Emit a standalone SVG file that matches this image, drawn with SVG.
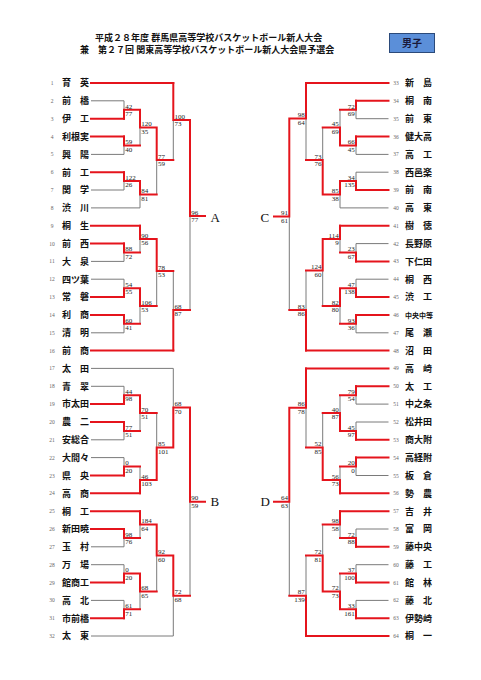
<svg xmlns="http://www.w3.org/2000/svg" width="481" height="680" viewBox="0 0 481 680">
<style>
.r{stroke:#e5141c;stroke-width:2;fill:none;stroke-linecap:square}
.g{stroke:#7a7a7a;stroke-width:1;fill:none}
.nm{font-family:"Liberation Serif","Noto Sans CJK JP",serif;font-size:9px;font-weight:bold;fill:#111}
.nms{font-family:"Liberation Serif","Noto Sans CJK JP",serif;font-size:7px;font-weight:bold;fill:#111}
.no{font-family:"Liberation Serif",serif;font-size:5.5px;fill:#666;text-anchor:middle}
.sl text{font-family:"Liberation Serif",serif;font-size:7px;fill:#222}
.sr text{font-family:"Liberation Serif",serif;font-size:7px;fill:#222;text-anchor:end}
.ttl{font-family:"Liberation Serif","Noto Sans CJK JP",serif;font-size:9px;font-weight:bold;fill:#111}
.blk{font-family:"Liberation Serif",serif;font-size:13px;fill:#111}
</style>
<rect width="481" height="680" fill="#fff"/>
<g id="title">
<text class="ttl" x="95" y="41">平成２８年度 群馬県高等学校バスケットボール新人大会</text>
<text class="ttl" x="80" y="52.5">兼　第２７回 関東高等学校バスケットボール新人大会県予選会</text>
</g>
<g id="badge">
<rect x="389.5" y="33.5" width="45" height="19" fill="#5b8fd9" stroke="#2b4a7a" stroke-width="1"/>
<text x="412" y="46.5" text-anchor="middle" font-family="Liberation Serif,Noto Sans CJK JP,serif" font-size="10" font-weight="bold" fill="#1a1a3a">男子</text>
</g>
<g id="connectors">
<!-- gray left team lines -->
<path class="g" d="M91,100.8H124M91,154.4H124M91,190H124M91,207.9H140M91,261.4H124M91,279.2H124M91,332.8H124M91,368.4H173.3M91,386.3H124M91,439.8H124M91,457.6H124M91,546.8H124M91,564.7H124M91,600.4H124M91,636H173.3"/>
<!-- gray right team lines -->
<path class="g" d="M388.5,118.7H356M388.5,154.4H356M388.5,172.2H356M388.5,207.9H340M388.5,243.6H356M388.5,279.2H356M388.5,332.8H356M388.5,404.1H356M388.5,422H356M388.5,475.5H356M388.5,529H356M388.5,564.7H356M388.5,600.4H356"/>
<!-- gray left loser verticals -->
<path class="g" d="M124,100.8V109.8M124,154.4V145.4M140,145.4V127.6M124,190V181.1M140,207.9V194.5M156.7,194.5V160M173.3,160V120M190,310V216M124,261.4V252.5M140,252.5V239.1M124,279.2V288.2M124,332.8V323.8M140,323.8V306M156.7,306V271M173.3,271V310M124,386.3V395.2M124,439.8V430.9M140,430.9V413M124,457.6V466.6M140,466.6V480M156.7,413V447.5M173.3,368.4V407.5M190,595.7V501.7M124,546.8V537.9M140,537.9V524.6M124,564.7V573.6M124,600.4V609.3M140,609.3V591.5M156.7,591.5V555.5M173.3,636V595.7"/>
<!-- gray right loser verticals -->
<path class="g" d="M356,118.7V109.8M356,154.4V145.4M340,109.8V127.6M356,172.2V181.1M340,207.9V194.5M322.7,127.6V160M306,160V118.5M289.3,310V216.5M356,243.6V252.5M340,252.5V239.1M356,279.2V288.2M356,332.8V323.8M340,323.8V306M322.7,306V270.5M306,270.5V310M356,404.1V395.2M356,422V430.9M340,395.2V413M356,475.5V466.6M340,466.6V480M322.7,413V447.5M306,447.5V407.7M289.3,595.7V501.7M356,529V537.9M340,537.9V524.6M356,564.7V573.6M356,600.4V609.3M340,573.6V591.5M322.7,524.6V555.5M306,555.5V595.7"/>
<!-- red left team lines -->
<path class="r" d="M91,83H173.3M91,118.7H124M91,136.5H124M91,172.2H124M91,225.7H140M91,243.6H124M91,297.1H124M91,314.9H124M91,350.6H173.3M91,404.1H124M91,422H124M91,475.5H124M91,493.3H140M91,511.2H140M91,529H124M91,582.5H124M91,618.2H124"/>
<!-- red right team lines -->
<path class="r" d="M388.5,83H306M388.5,100.8H356M388.5,136.5H356M388.5,190H356M388.5,225.7H340M388.5,261.4H356M388.5,297.1H356M388.5,314.9H356M388.5,350.6H306M388.5,368.4H306M388.5,386.3H356M388.5,439.8H356M388.5,457.6H356M388.5,493.3H340M388.5,511.2H340M388.5,546.8H356M388.5,582.5H356M388.5,618.2H356M388.5,636H306"/>
<!-- red left winner paths -->
<path class="r" d="M124,118.7V109.8H140M124,136.5V145.4H140M140,109.8V127.6H156.7M124,172.2V181.1H140M140,181.1V194.5H156.7M156.7,127.6V160H173.3M173.3,83V120H190M190,120V216H205M124,243.6V252.5H140M140,225.7V239.1H156.7M124,297.1V288.2H140M124,314.9V323.8H140M140,288.2V306H156.7M156.7,239.1V271H173.3M173.3,350.6V310H190M124,404.1V395.2H140M124,422V430.9H140M140,395.2V413H156.7M124,475.5V466.6H140M140,493.3V480H156.7M156.7,480V447.5H173.3M173.3,447.5V407.5H190M190,407.5V501.7H205M124,529V537.9H140M140,511.2V524.6H156.7M124,582.5V573.6H140M124,618.2V609.3H140M140,573.6V591.5H156.7M156.7,524.6V555.5H173.3M173.3,555.5V595.7H190"/>
<!-- red right winner paths -->
<path class="r" d="M356,100.8V109.8H340M356,136.5V145.4H340M340,145.4V127.6H322.7M356,190V181.1H340M340,181.1V194.5H322.7M322.7,194.5V160H306M306,83V118.5H289.3M289.3,118.5V216.5H274M356,261.4V252.5H340M340,225.7V239.1H322.7M356,297.1V288.2H340M356,314.9V323.8H340M340,288.2V306H322.7M322.7,239.1V270.5H306M306,350.6V310H289.3M356,386.3V395.2H340M356,439.8V430.9H340M340,430.9V413H322.7M356,457.6V466.6H340M340,493.3V480H322.7M322.7,480V447.5H306M306,368.4V407.7H289.3M289.3,407.7V501.7H274M356,546.8V537.9H340M340,511.2V524.6H322.7M356,582.5V573.6H340M356,618.2V609.3H340M340,609.3V591.5H322.7M322.7,591.5V555.5H306M306,636V595.7H289.3"/>
</g>
<g id="blocks">
<text class="blk" x="210.5" y="221.5">A</text>
<text class="blk" x="210.5" y="506.3">B</text>
<text class="blk" x="260.5" y="221.5">C</text>
<text class="blk" x="260.5" y="506.3">D</text>
</g>
<g id="scores">
<g class="sl" transform="translate(125.3,109.8)"><text y="-1.3">42</text><text y="6.3">77</text></g>
<g class="sl" transform="translate(125.3,145.4)"><text y="-1.3">59</text><text y="6.3">40</text></g>
<g class="sl" transform="translate(141.3,127.6)"><text y="-1.3">120</text><text y="6.3">35</text></g>
<g class="sl" transform="translate(125.3,181.1)"><text y="-1.3">122</text><text y="6.3">26</text></g>
<g class="sl" transform="translate(141.3,194.5)"><text y="-1.3">84</text><text y="6.3">81</text></g>
<g class="sl" transform="translate(158,160)"><text y="-1.3">77</text><text y="6.3">59</text></g>
<g class="sl" transform="translate(174.6,120)"><text y="-1.3">100</text><text y="6.3">73</text></g>
<g class="sl" transform="translate(191.3,216)"><text y="-1.3">96</text><text y="6.3">77</text></g>
<g class="sl" transform="translate(125.3,252.5)"><text y="-1.3">88</text><text y="6.3">72</text></g>
<g class="sl" transform="translate(141.3,239.1)"><text y="-1.3">90</text><text y="6.3">56</text></g>
<g class="sl" transform="translate(125.3,288.2)"><text y="-1.3">54</text><text y="6.3">55</text></g>
<g class="sl" transform="translate(125.3,323.8)"><text y="-1.3">60</text><text y="6.3">41</text></g>
<g class="sl" transform="translate(141.3,306)"><text y="-1.3">106</text><text y="6.3">53</text></g>
<g class="sl" transform="translate(158,271)"><text y="-1.3">78</text><text y="6.3">53</text></g>
<g class="sl" transform="translate(174.6,310)"><text y="-1.3">68</text><text y="6.3">87</text></g>
<g class="sl" transform="translate(125.3,395.2)"><text y="-1.3">44</text><text y="6.3">98</text></g>
<g class="sl" transform="translate(125.3,430.9)"><text y="-1.3">77</text><text y="6.3">51</text></g>
<g class="sl" transform="translate(141.3,413)"><text y="-1.3">70</text><text y="6.3">51</text></g>
<g class="sl" transform="translate(125.3,466.6)"><text y="-1.3">0</text><text y="6.3">20</text></g>
<g class="sl" transform="translate(141.3,480)"><text y="-1.3">46</text><text y="6.3">103</text></g>
<g class="sl" transform="translate(158,447.5)"><text y="-1.3">85</text><text y="6.3">101</text></g>
<g class="sl" transform="translate(174.6,407.5)"><text y="-1.3">68</text><text y="6.3">70</text></g>
<g class="sl" transform="translate(191.3,501.7)"><text y="-1.3">90</text><text y="6.3">59</text></g>
<g class="sl" transform="translate(125.3,537.9)"><text y="-1.3">98</text><text y="6.3">76</text></g>
<g class="sl" transform="translate(141.3,524.6)"><text y="-1.3">184</text><text y="6.3">64</text></g>
<g class="sl" transform="translate(125.3,573.6)"><text y="-1.3">0</text><text y="6.3">20</text></g>
<g class="sl" transform="translate(125.3,609.3)"><text y="-1.3">61</text><text y="6.3">71</text></g>
<g class="sl" transform="translate(141.3,591.5)"><text y="-1.3">68</text><text y="6.3">65</text></g>
<g class="sl" transform="translate(158,555.5)"><text y="-1.3">92</text><text y="6.3">60</text></g>
<g class="sl" transform="translate(174.6,595.7)"><text y="-1.3">72</text><text y="6.3">68</text></g>
<g class="sr" transform="translate(354.7,109.8)"><text y="-1.3">72</text><text y="6.3">69</text></g>
<g class="sr" transform="translate(354.7,145.4)"><text y="-1.3">66</text><text y="6.3">45</text></g>
<g class="sr" transform="translate(338.7,127.6)"><text y="-1.3">45</text><text y="6.3">69</text></g>
<g class="sr" transform="translate(354.7,181.1)"><text y="-1.3">34</text><text y="6.3">135</text></g>
<g class="sr" transform="translate(338.7,194.5)"><text y="-1.3">85</text><text y="6.3">38</text></g>
<g class="sr" transform="translate(321.4,160)"><text y="-1.3">73</text><text y="6.3">76</text></g>
<g class="sr" transform="translate(304.7,118.5)"><text y="-1.3">98</text><text y="6.3">64</text></g>
<g class="sr" transform="translate(288,216.5)"><text y="-1.3">91</text><text y="6.3">61</text></g>
<g class="sr" transform="translate(354.7,252.5)"><text y="-1.3">23</text><text y="6.3">67</text></g>
<g class="sr" transform="translate(338.7,239.1)"><text y="-1.3">114</text><text y="6.3">9</text></g>
<g class="sr" transform="translate(354.7,288.2)"><text y="-1.3">47</text><text y="6.3">138</text></g>
<g class="sr" transform="translate(354.7,323.8)"><text y="-1.3">93</text><text y="6.3">36</text></g>
<g class="sr" transform="translate(338.7,306)"><text y="-1.3">82</text><text y="6.3">80</text></g>
<g class="sr" transform="translate(321.4,270.5)"><text y="-1.3">124</text><text y="6.3">60</text></g>
<g class="sr" transform="translate(304.7,310)"><text y="-1.3">83</text><text y="6.3">86</text></g>
<g class="sr" transform="translate(354.7,395.2)"><text y="-1.3">79</text><text y="6.3">54</text></g>
<g class="sr" transform="translate(354.7,430.9)"><text y="-1.3">45</text><text y="6.3">97</text></g>
<g class="sr" transform="translate(338.7,413)"><text y="-1.3">40</text><text y="6.3">87</text></g>
<g class="sr" transform="translate(354.7,466.6)"><text y="-1.3">20</text><text y="6.3">0</text></g>
<g class="sr" transform="translate(338.7,480)"><text y="-1.3">56</text><text y="6.3">73</text></g>
<g class="sr" transform="translate(321.4,447.5)"><text y="-1.3">52</text><text y="6.3">85</text></g>
<g class="sr" transform="translate(304.7,407.7)"><text y="-1.3">86</text><text y="6.3">78</text></g>
<g class="sr" transform="translate(288,501.7)"><text y="-1.3">64</text><text y="6.3">63</text></g>
<g class="sr" transform="translate(354.7,537.9)"><text y="-1.3">72</text><text y="6.3">88</text></g>
<g class="sr" transform="translate(338.7,524.6)"><text y="-1.3">98</text><text y="6.3">58</text></g>
<g class="sr" transform="translate(354.7,573.6)"><text y="-1.3">37</text><text y="6.3">100</text></g>
<g class="sr" transform="translate(354.7,609.3)"><text y="-1.3">33</text><text y="6.3">161</text></g>
<g class="sr" transform="translate(338.7,591.5)"><text y="-1.3">72</text><text y="6.3">73</text></g>
<g class="sr" transform="translate(321.4,555.5)"><text y="-1.3">72</text><text y="6.3">81</text></g>
<g class="sr" transform="translate(304.7,595.7)"><text y="-1.3">87</text><text y="6.3">139</text></g>
</g>
<g id="teams-left">
<g id="t1" transform="translate(0,83)"><text class="no" x="52" y="2">1</text><text class="nm" x="62" y="3.3">育　英</text></g>
<g id="t2" transform="translate(0,100.8)"><text class="no" x="52" y="2">2</text><text class="nm" x="62" y="3.3">前　橋</text></g>
<g id="t3" transform="translate(0,118.7)"><text class="no" x="52" y="2">3</text><text class="nm" x="62" y="3.3">伊　工</text></g>
<g id="t4" transform="translate(0,136.5)"><text class="no" x="52" y="2">4</text><text class="nm" x="62" y="3.3">利根実</text></g>
<g id="t5" transform="translate(0,154.4)"><text class="no" x="52" y="2">5</text><text class="nm" x="62" y="3.3">興　陽</text></g>
<g id="t6" transform="translate(0,172.2)"><text class="no" x="52" y="2">6</text><text class="nm" x="62" y="3.3">前　工</text></g>
<g id="t7" transform="translate(0,190)"><text class="no" x="52" y="2">7</text><text class="nm" x="62" y="3.3">関　学</text></g>
<g id="t8" transform="translate(0,207.9)"><text class="no" x="52" y="2">8</text><text class="nm" x="62" y="3.3">渋　川</text></g>
<g id="t9" transform="translate(0,225.7)"><text class="no" x="52" y="2">9</text><text class="nm" x="62" y="3.3">桐　生</text></g>
<g id="t10" transform="translate(0,243.6)"><text class="no" x="52" y="2">10</text><text class="nm" x="62" y="3.3">前　西</text></g>
<g id="t11" transform="translate(0,261.4)"><text class="no" x="52" y="2">11</text><text class="nm" x="62" y="3.3">大　泉</text></g>
<g id="t12" transform="translate(0,279.2)"><text class="no" x="52" y="2">12</text><text class="nm" x="62" y="3.3">四ツ葉</text></g>
<g id="t13" transform="translate(0,297.1)"><text class="no" x="52" y="2">13</text><text class="nm" x="62" y="3.3">常　磐</text></g>
<g id="t14" transform="translate(0,314.9)"><text class="no" x="52" y="2">14</text><text class="nm" x="62" y="3.3">利　商</text></g>
<g id="t15" transform="translate(0,332.8)"><text class="no" x="52" y="2">15</text><text class="nm" x="62" y="3.3">清　明</text></g>
<g id="t16" transform="translate(0,350.6)"><text class="no" x="52" y="2">16</text><text class="nm" x="62" y="3.3">前　商</text></g>
<g id="t17" transform="translate(0,368.4)"><text class="no" x="52" y="2">17</text><text class="nm" x="62" y="3.3">太　田</text></g>
<g id="t18" transform="translate(0,386.3)"><text class="no" x="52" y="2">18</text><text class="nm" x="62" y="3.3">青　翠</text></g>
<g id="t19" transform="translate(0,404.1)"><text class="no" x="52" y="2">19</text><text class="nm" x="62" y="3.3">市太田</text></g>
<g id="t20" transform="translate(0,422)"><text class="no" x="52" y="2">20</text><text class="nm" x="62" y="3.3">農　二</text></g>
<g id="t21" transform="translate(0,439.8)"><text class="no" x="52" y="2">21</text><text class="nm" x="62" y="3.3">安総合</text></g>
<g id="t22" transform="translate(0,457.6)"><text class="no" x="52" y="2">22</text><text class="nm" x="62" y="3.3">大間々</text></g>
<g id="t23" transform="translate(0,475.5)"><text class="no" x="52" y="2">23</text><text class="nm" x="62" y="3.3">県　央</text></g>
<g id="t24" transform="translate(0,493.3)"><text class="no" x="52" y="2">24</text><text class="nm" x="62" y="3.3">高　商</text></g>
<g id="t25" transform="translate(0,511.2)"><text class="no" x="52" y="2">25</text><text class="nm" x="62" y="3.3">桐　工</text></g>
<g id="t26" transform="translate(0,529)"><text class="no" x="52" y="2">26</text><text class="nm" x="62" y="3.3">新田暁</text></g>
<g id="t27" transform="translate(0,546.8)"><text class="no" x="52" y="2">27</text><text class="nm" x="62" y="3.3">玉　村</text></g>
<g id="t28" transform="translate(0,564.7)"><text class="no" x="52" y="2">28</text><text class="nm" x="62" y="3.3">万　場</text></g>
<g id="t29" transform="translate(0,582.5)"><text class="no" x="52" y="2">29</text><text class="nm" x="62" y="3.3">館商工</text></g>
<g id="t30" transform="translate(0,600.4)"><text class="no" x="52" y="2">30</text><text class="nm" x="62" y="3.3">高　北</text></g>
<g id="t31" transform="translate(0,618.2)"><text class="no" x="52" y="2">31</text><text class="nm" x="62" y="3.3">市前橋</text></g>
<g id="t32" transform="translate(0,636)"><text class="no" x="52" y="2">32</text><text class="nm" x="62" y="3.3">太　東</text></g>
</g>
<g id="teams-right">
<g id="t33" transform="translate(0,83)"><text class="no" x="396" y="2">33</text><text class="nm" x="405" y="3.3">新　島</text></g>
<g id="t34" transform="translate(0,100.8)"><text class="no" x="396" y="2">34</text><text class="nm" x="405" y="3.3">桐　南</text></g>
<g id="t35" transform="translate(0,118.7)"><text class="no" x="396" y="2">35</text><text class="nm" x="405" y="3.3">前　東</text></g>
<g id="t36" transform="translate(0,136.5)"><text class="no" x="396" y="2">36</text><text class="nm" x="405" y="3.3">健大高</text></g>
<g id="t37" transform="translate(0,154.4)"><text class="no" x="396" y="2">37</text><text class="nm" x="405" y="3.3">高　工</text></g>
<g id="t38" transform="translate(0,172.2)"><text class="no" x="396" y="2">38</text><text class="nm" x="405" y="3.3">西邑楽</text></g>
<g id="t39" transform="translate(0,190)"><text class="no" x="396" y="2">39</text><text class="nm" x="405" y="3.3">前　南</text></g>
<g id="t40" transform="translate(0,207.9)"><text class="no" x="396" y="2">40</text><text class="nm" x="405" y="3.3">高　東</text></g>
<g id="t41" transform="translate(0,225.7)"><text class="no" x="396" y="2">41</text><text class="nm" x="405" y="3.3">樹　徳</text></g>
<g id="t42" transform="translate(0,243.6)"><text class="no" x="396" y="2">42</text><text class="nm" x="405" y="3.3">長野原</text></g>
<g id="t43" transform="translate(0,261.4)"><text class="no" x="396" y="2">43</text><text class="nm" x="405" y="3.3">下仁田</text></g>
<g id="t44" transform="translate(0,279.2)"><text class="no" x="396" y="2">44</text><text class="nm" x="405" y="3.3">桐　西</text></g>
<g id="t45" transform="translate(0,297.1)"><text class="no" x="396" y="2">45</text><text class="nm" x="405" y="3.3">渋　工</text></g>
<g id="t46" transform="translate(0,314.9)"><text class="no" x="396" y="2">46</text><text class="nms" x="405" y="2.6">中央中等</text></g>
<g id="t47" transform="translate(0,332.8)"><text class="no" x="396" y="2">47</text><text class="nm" x="405" y="3.3">尾　瀬</text></g>
<g id="t48" transform="translate(0,350.6)"><text class="no" x="396" y="2">48</text><text class="nm" x="405" y="3.3">沼　田</text></g>
<g id="t49" transform="translate(0,368.4)"><text class="no" x="396" y="2">49</text><text class="nm" x="405" y="3.3">高　崎</text></g>
<g id="t50" transform="translate(0,386.3)"><text class="no" x="396" y="2">50</text><text class="nm" x="405" y="3.3">太　工</text></g>
<g id="t51" transform="translate(0,404.1)"><text class="no" x="396" y="2">51</text><text class="nm" x="405" y="3.3">中之条</text></g>
<g id="t52" transform="translate(0,422)"><text class="no" x="396" y="2">52</text><text class="nm" x="405" y="3.3">松井田</text></g>
<g id="t53" transform="translate(0,439.8)"><text class="no" x="396" y="2">53</text><text class="nm" x="405" y="3.3">商大附</text></g>
<g id="t54" transform="translate(0,457.6)"><text class="no" x="396" y="2">54</text><text class="nm" x="405" y="3.3">高経附</text></g>
<g id="t55" transform="translate(0,475.5)"><text class="no" x="396" y="2">55</text><text class="nm" x="405" y="3.3">板　倉</text></g>
<g id="t56" transform="translate(0,493.3)"><text class="no" x="396" y="2">56</text><text class="nm" x="405" y="3.3">勢　農</text></g>
<g id="t57" transform="translate(0,511.2)"><text class="no" x="396" y="2">57</text><text class="nm" x="405" y="3.3">吉　井</text></g>
<g id="t58" transform="translate(0,529)"><text class="no" x="396" y="2">58</text><text class="nm" x="405" y="3.3">富　岡</text></g>
<g id="t59" transform="translate(0,546.8)"><text class="no" x="396" y="2">59</text><text class="nm" x="405" y="3.3">藤中央</text></g>
<g id="t60" transform="translate(0,564.7)"><text class="no" x="396" y="2">60</text><text class="nm" x="405" y="3.3">藤　工</text></g>
<g id="t61" transform="translate(0,582.5)"><text class="no" x="396" y="2">61</text><text class="nm" x="405" y="3.3">館　林</text></g>
<g id="t62" transform="translate(0,600.4)"><text class="no" x="396" y="2">62</text><text class="nm" x="405" y="3.3">藤　北</text></g>
<g id="t63" transform="translate(0,618.2)"><text class="no" x="396" y="2">63</text><text class="nm" x="405" y="3.3">伊勢崎</text></g>
<g id="t64" transform="translate(0,636)"><text class="no" x="396" y="2">64</text><text class="nm" x="405" y="3.3">桐　一</text></g>
</g>
</svg>
